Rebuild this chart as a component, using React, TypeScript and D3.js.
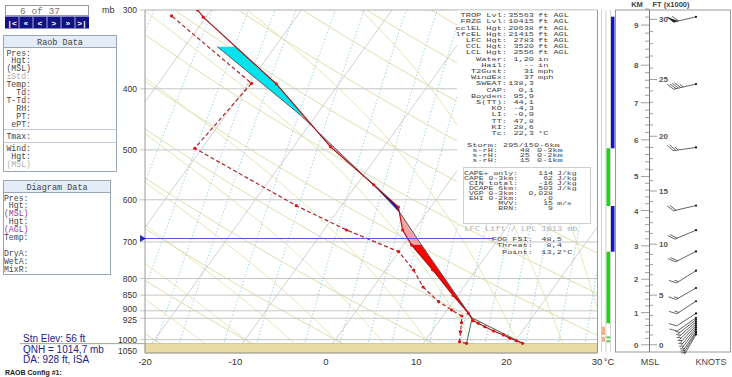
import React from "react";
import * as d3 from "d3";

// ---------------- data ----------------
const isobarLevels = [300, 400, 500, 600, 700, 800, 850, 900, 925, 1000];
const pressureLabels = [300, 400, 500, 600, 700, 800, 850, 900, 925, 1000, 1050];
const labelNudge = [0, 0, 0, 0, 0, 0, 0, -1.5, 1.5, 0, -2];
const tempTicks = [-20, -10, 0, 10, 20, 30];

// environmental temperature (mb, °C)
const envP = [1013.5, 1004, 995, 983, 969, 954, 942, 933, 908, 851, 775, 708, 670, 616, 568, 494.5, 393, 308, 300];
const envT = [21.0, 20.1, 19.2, 18.2, 16.8, 15.5, 14.5, 13.7, 12.6, 9.5, 5.2, 0.9, -1.3, -3.6, -8.1, -15.9, -26.9, -40.3, -41.5];

// dew point
const dewP = [1013.5, 1007.6, 971.4, 940, 917.3, 897.4, 870.6, 825.1, 775.4, 725.3, 670, 613.1, 497.1, 392.1, 306.6];
const dewT = [14.8, 13.9, 13.2, 12.6, 12.1, 10.5, 8.4, 5.5, 3.1, 0.0, -7.5, -15.0, -30.8, -29.7, -43.9];

// lifted parcel
const parcelP = [1013.5, 924, 703, 630, 575, 440, 343];
const parcelT = [21.0, 13.4, 1.7, -2.9, -7.5, -21.8, -36.4];

const sfcP = 1013.5;
const sfcTd = 14.8;
const lclP = 924;
const lclT = 13.4;
const stnPressure = 1014.7;

const areaBreaks = [915, 708, 630, 572, 440, 343];
const areaColors = ["#ff0000", "#f5a3a3", "#1010c8", "#f5a3a3", "#00e4ee"];

const mixingRatios = [0.2, 0.4, 0.6, 0.8, 1, 1.5, 2, 3, 4, 5, 6, 8, 10, 12, 14, 16, 20, 24, 28, 32];
const dryAdiabats = d3.range(-30, 160, 10);
const moistAdiabats = d3.range(-15, 40, 5);

// altitude scale: km -> pressure
const kmLevels = [0, 1, 2, 3, 4, 5, 6, 7, 8, 9];
const kmPressures = [1019, 906, 802, 710, 624, 551, 482, 421, 367, 317];

// winds
const windFt = [30200, 24600, 19000, 13600, 11300, 9300, 7400, 5700, 4400, 3200, 2750, 2550, 2350, 2150, 1950, 1750, 1550, 1350, 1200, 1050];
const windDir = [257, 257, 262, 257, 247, 243, 238, 240, 237, 237, 235, 232, 229, 226, 223, 220, 217, 214, 212, 210];
const windKt = [60, 45, 25, 20, 20, 20, 15, 15, 15, 10, 10, 5, 5, 5, 5, 5, 5, 5, 5, 5];

const statsRows = [
  ["TROP Lvl:", "35563", "ft AGL"],
  ["FRZG Lvl:", "10415", "ft AGL"],
  ["cclEL Hgt:", "20638", "ft AGL"],
  ["lfcEL Hgt:", "21415", "ft AGL"],
  ["LFC Hgt:", "2783", "ft AGL"],
  ["CCL Hgt:", "3520", "ft AGL"],
  ["LCL Hgt:", "2556", "ft AGL"],
  ["Water:", "1,20", "in"],
  ["Hail:", "--", "in"],
  ["T2Gust:", "31", "mph"],
  ["WindEx:", "37", "mph"],
  ["SWEAT:", "138,3", ""],
  ["CAP:", "0,1", ""],
  ["Boyden:", "95,9", ""],
  ["S(TT):", "44,1", ""],
  ["KO:", "-4,3", ""],
  ["LI:", "-0,9", ""],
  ["TT:", "47,8", ""],
  ["KI:", "28,6", ""],
  ["Tc:", "22,3", "°C"],
];
const stormRows = [
  ["Storm:", "295/15", "0-6km"],
  ["s-rH:", "48", "0-3km"],
  ["s-rH:", "25", "0-2km"],
  ["s-rH:", "15", "0-1km"],
];
const capeRows = [
  ["CAPE+ only:", "114", "J/kg"],
  ["CAPE 0-3km:", "62", "J/kg"],
  ["CIN total:", "-16", "J/kg"],
  ["DCAPE 6km:", "503", "J/kg"],
  ["VGP 0-3km:", "0,028", ""],
  ["EHI 0-2km:", ",0", ""],
  ["MVV:", "15", "m/s"],
  ["BRN:", "9", ""],
];
const fogRows = [
  ["FOG FSI:", "48,5", ""],
  ["Threat:", "8,4", ""],
  ["Point:", "13,2", "°C"],
];
const raobLabels = ["Pres:", "Hgt:", "(MSL)", "±Std:", "Temp:", "Td:", "T-Td:", "RH:", "PT:", "ePT:"];
const diagLabels = ["Pres:", "Hgt:", "(MSL)", "Hgt:", "(AGL)", "Temp:", "", "DryA:", "WetA:", "MixR:"];
const navGlyphs = ["|<", "«", "<", ">", "»", ">|"];

// ---------------- scales ----------------
const TOP = 10, BOT = 353, LEFT = 145, RIGHT = 597;
const SKEW = 0.72;
const yP = d3.scaleLog().domain([300, 1050]).range([TOP, BOT]);
const xT = d3.scaleLinear().domain([-20, 30]).range([LEFT, RIGHT]);
const X = (t: number, p: number) => xT(t) + SKEW * (BOT - yP(p));
const kmToY = d3.scaleLinear().domain(kmLevels).range(kmPressures.map((p) => yP(p)));

const line = d3.line<[number, number]>().x((d) => d[0]).y((d) => d[1]);

function interp(P: number[], T: number[], p: number) {
  for (let i = 0; i < P.length - 1; i++) {
    if (p <= P[i] && p >= P[i + 1]) {
      const f = Math.log(P[i] / p) / Math.log(P[i] / P[i + 1]);
      return T[i] + f * (T[i + 1] - T[i]);
    }
  }
  return p > P[0] ? T[0] : T[T.length - 1];
}

function esat(tc: number) {
  return 6.112 * Math.exp((17.67 * tc) / (tc + 243.5));
}
function moistLine(thw: number) {
  const Rd = 287.04, cp = 1005.7, L = 2.501e6, eps = 0.622;
  const grad = (p: number, tk: number) => {
    const tc = tk - 273.15;
    const es = esat(tc);
    const rs = (eps * es) / (p - es);
    return ((Rd * tk + L * rs) / p) / (cp + (L * L * rs * eps) / (Rd * tk * tk));
  };
  const up: [number, number][] = [];
  let tk = thw + 273.15;
  for (let p = 1000; p >= 250; p -= 5) {
    up.push([X(tk - 273.15, p), yP(p)]);
    tk -= grad(p, tk) * 5;
  }
  const down: [number, number][] = [];
  tk = thw + 273.15;
  for (let p = 1000; p <= 1060; p += 5) {
    down.push([X(tk - 273.15, p), yP(p)]);
    tk += grad(p, tk) * 5;
  }
  return down.reverse().concat(up);
}
function dryLine(th: number) {
  const pts: [number, number][] = [];
  for (let p = 1060; p >= 250; p -= 10) {
    const t = (th + 273.15) * Math.pow(p / 1000, 0.2857) - 273.15;
    pts.push([X(t, p), yP(p)]);
  }
  return pts;
}
function mixLine(w: number) {
  const pts: [number, number][] = [];
  for (let p = 1060; p >= 250; p -= 10) {
    const e = ((w / 1000) * p) / (0.622 + w / 1000);
    const a = Math.log(e / 6.112);
    const td = (243.5 * a) / (17.67 - a);
    pts.push([X(td, p), yP(p)]);
  }
  return pts;
}

function areaPolygon(pa: number, pb: number) {
  const ps = [pa];
  [...envP, ...parcelP].forEach((p) => {
    if (p < pa && p > pb) ps.push(p);
  });
  ps.push(pb);
  ps.sort((a, b) => b - a);
  const fwd = ps.map((p) => [X(interp(parcelP, parcelT, p), p), yP(p)] as [number, number]);
  const back = ps
    .slice()
    .reverse()
    .map((p) => [X(interp(envP, envT, p), p), yP(p)] as [number, number]);
  return line(fwd.concat(back)) + "Z";
}

function barb(x0: number, y0: number, dir: number, kt: number, key: number) {
  const r = (dir * Math.PI) / 180;
  const ux = Math.sin(r), uy = -Math.cos(r);
  const Ls = 23;
  const ex = x0 + ux * Ls, ey = y0 + uy * Ls;
  const a = (50 * Math.PI) / 180;
  const bx = ux * Math.cos(a) - uy * Math.sin(a);
  const by = ux * Math.sin(a) + uy * Math.cos(a);
  let rem = Math.round(kt / 5) * 5;
  let pos = 0;
  const parts: React.ReactNode[] = [];
  parts.push(<line key="s" x1={x0} y1={y0} x2={ex} y2={ey} />);
  let i = 0;
  while (rem >= 50) {
    const px = ex - ux * pos, py = ey - uy * pos;
    const qx = ex - ux * (pos + 4), qy = ey - uy * (pos + 4);
    parts.push(
      <polygon key={"t" + i++} points={`${px},${py} ${px + bx * 8},${py + by * 8} ${qx},${qy}`} fill="#111" />
    );
    pos += 5;
    rem -= 50;
  }
  while (rem >= 10) {
    const px = ex - ux * pos, py = ey - uy * pos;
    parts.push(<line key={"b" + i++} x1={px} y1={py} x2={px + bx * 8} y2={py + by * 8} />);
    pos += 2.5;
    rem -= 10;
  }
  if (rem >= 5) {
    if (pos === 0) pos = 2.5;
    const px = ex - ux * pos, py = ey - uy * pos;
    parts.push(<line key={"h" + i++} x1={px} y1={py} x2={px + bx * 4.5} y2={py + by * 4.5} />);
  }
  return (
    <g key={key}>
      {parts}
      <circle cx={x0} cy={y0} r={1.1} fill="#111" stroke="none" />
    </g>
  );
}

function SText(props: any) {
  const { x, y, anchor = "start", size = 8.6, sy = 0.72, fill = "#444", children } = props;
  return (
    <text
      transform={`translate(${x},${y}) scale(1,${sy})`}
      textAnchor={anchor}
      fontSize={size}
      fill={fill}
      fontFamily="'Liberation Mono', monospace"
    >
      {children}
    </text>
  );
}

export default function App() {
  const mono = "'Liberation Mono', 'Courier New', monospace";
  const sans = "'Liberation Sans', Arial, sans-serif";
  const envPts = envP.map((p, i) => [X(envT[i], p), yP(p)] as [number, number]);
  const dewPts = dewP.map((p, i) => [X(dewT[i], p), yP(p)] as [number, number]);
  const parPts = parcelP.map((p, i) => [X(parcelT[i], p), yP(p)] as [number, number]);
  const yStn = yP(stnPressure);
  const axisX = 649.5;

  const kmMinor = d3.range(0, 9.45, 0.2);
  const ftTicks = d3.range(0, 31000, 1000);

  return (
    <svg width={732} height={377} style={{ position: "absolute", left: 0, top: 0, background: "#fff" }}>
      <defs>
        <clipPath id="plot">
          <rect x={LEFT} y={TOP} width={RIGHT - LEFT + 1} height={BOT - TOP} />
        </clipPath>
      </defs>

      {/* ---------- grid ---------- */}
      <g clipPath="url(#plot)" fill="none">
        {mixingRatios.map((w) => (
          <path key={"m" + w} d={line(mixLine(w)) || ""} stroke="#8ccfe4" strokeWidth={0.9} strokeDasharray="1.5,2" />
        ))}
        {dryAdiabats.map((th) => (
          <path key={"d" + th} d={line(dryLine(th)) || ""} stroke="#d9dba3" strokeWidth={0.9} />
        ))}
        {moistAdiabats.map((th) => (
          <path key={"w" + th} d={line(moistLine(th)) || ""} stroke="#dfe3ab" strokeWidth={0.9} />
        ))}
        {d3.range(-120, 40, 10).map((t) => (
          <line key={"t" + t} x1={X(t, 1050)} y1={yP(1050)} x2={X(t, 300)} y2={yP(300)} stroke="#bdbdbd" strokeWidth={0.7} />
        ))}
      </g>
      {isobarLevels.map((p) => (
        <line key={"p" + p} x1={140} x2={RIGHT} y1={yP(p)} y2={yP(p)} stroke="#c6c6c6" strokeWidth={1} />
      ))}

      {/* ground */}
      <rect x={LEFT} y={yStn} width={RIGHT - LEFT} height={BOT - yStn} fill="#e8dca4" stroke="#b9ad78" strokeWidth={0.6} />
      <line x1={20} x2={LEFT} y1={yStn} y2={yStn} stroke="#8c8c6c" strokeWidth={0.8} />

      {/* plot frame */}
      <line x1={LEFT} x2={LEFT} y1={TOP} y2={BOT} stroke="#9a9a9a" strokeWidth={1} />
      <line x1={LEFT} x2={RIGHT} y1={BOT} y2={BOT} stroke="#9a9a9a" strokeWidth={1} />
      <line x1={LEFT} x2={RIGHT} y1={TOP} y2={TOP} stroke="#c6c6c6" strokeWidth={1} />

      {/* CAPE / CIN areas */}
      <g clipPath="url(#plot)">
        {areaColors.map((c, i) => (
          <path key={"a" + i} d={areaPolygon(areaBreaks[i], areaBreaks[i + 1])} fill={c} stroke="none" />
        ))}
        <path d={line(parPts) || ""} fill="none" stroke="#5a5a5a" strokeWidth={1} />
        <line x1={X(sfcTd, sfcP)} y1={yP(sfcP)} x2={X(lclT, lclP)} y2={yP(lclP)} stroke="#2f7a4f" strokeWidth={1} />
        <path d={line(envPts) || ""} fill="none" stroke="#a31515" strokeWidth={1.2} />
        <path d={line(dewPts) || ""} fill="none" stroke="#b02525" strokeWidth={1.2} strokeDasharray="4,2.5" />
        {envPts.map((d, i) => (
          <circle key={"e" + i} cx={d[0]} cy={d[1]} r={1.6} fill="#e01010" />
        ))}
        {dewPts.map((d, i) => (
          <circle key={"q" + i} cx={d[0]} cy={d[1]} r={1.6} fill="#e01010" />
        ))}
      </g>

      {/* LPL line */}
      <line x1={140} x2={493} y1={238.5} y2={238.5} stroke="#5a5ad0" strokeWidth={1} />
      <polygon points="140,235 146,238.5 140,242" fill="#2a2ab8" />

      {/* stats panel */}
      <rect x={457} y={10.5} width={140} height={213} fill="#fff" />
      <rect x={463.5} y={167.5} width={127} height={56} fill="#fff" stroke="#cfcfcf" strokeWidth={1} />
      {statsRows.map((r, i) => {
        const y = 17.2 + i * 6.2;
        return (
          <g key={"s" + i}>
            <SText x={507} y={y} anchor="end">{r[0]}</SText>
            <SText x={534} y={y} anchor="end">{r[1]}</SText>
            <SText x={538} y={y}>{r[2]}</SText>
          </g>
        );
      })}
      {stormRows.map((r, i) => {
        const y = 147 + i * 5;
        return (
          <g key={"st" + i}>
            <SText x={498} y={y} anchor="end" sy={0.58}>{r[0]}</SText>
            <SText x={i === 0 ? 503 : 530} y={y} anchor={i === 0 ? "start" : "end"} sy={0.58}>{r[1]}</SText>
            <SText x={i === 0 ? 534 : 537} y={y} sy={0.58}>{r[2]}</SText>
          </g>
        );
      })}
      {capeRows.map((r, i) => {
        const y = 175 + i * 5;
        return (
          <g key={"c" + i}>
            <SText x={518} y={y} anchor="end" size={8.2} sy={0.58}>{r[0]}</SText>
            <SText x={553} y={y} anchor="end" size={8.2} sy={0.58}>{r[1]}</SText>
            <SText x={557} y={y} size={8.2} sy={0.58}>{r[2]}</SText>
          </g>
        );
      })}
      <SText x={521} y={230.5} anchor="middle" fill="#b0b0b0" sy={0.8}>LFC Lift / LPL 1013 mb</SText>
      {fogRows.map((r, i) => {
        const y = 240.5 + i * 6.5;
        return (
          <g key={"f" + i}>
            <SText x={533} y={y} anchor="end" sy={0.68}>{r[0]}</SText>
            <SText x={562} y={y} anchor="end" sy={0.68}>{r[1]}</SText>
            <SText x={562} y={y} sy={0.68}>{r[2]}</SText>
          </g>
        );
      })}

      {/* pressure labels */}
      <text x={102} y={13} fontSize={9} fontFamily={sans} fill="#333">mb</text>
      {pressureLabels.map((p, i) => (
        <text key={"pl" + p} x={137} y={yP(p) + labelNudge[i] + 3} textAnchor="end" fontSize={8.5} fontFamily={sans} fill="#333">
          {p}
        </text>
      ))}
      {tempTicks.map((t) => (
        <text key={"tl" + t} x={X(t, 1050)} y={364.5} textAnchor="middle" fontSize={9.5} fontFamily={sans} fill="#333">
          {t}
        </text>
      ))}
      <text x={609} y={364.5} textAnchor="middle" fontSize={9.5} fontFamily={sans} fill="#333">°C</text>

      {/* right column */}
      {[601.5, 606, 610.5].map((x) => (
        <line key={"cl" + x} x1={x} x2={x} y1={TOP} y2={352} stroke="#c8c8c8" strokeWidth={0.8} />
      ))}
      <line x1={RIGHT + 0.5} x2={RIGHT + 0.5} y1={TOP} y2={BOT} stroke="#9a9a9a" strokeWidth={1} />
      <rect x={611} y={16.7} width={3.5} height={131.6} fill="#1414c8" />
      <rect x={606.5} y={148.3} width={3.5} height={57.7} fill="#22d022" />
      <rect x={611} y={206} width={3.5} height={45.7} fill="#1414c8" />
      <rect x={606.5} y={251.7} width={3.5} height={71.6} fill="#22d022" />
      <rect x={602} y={326.7} width={3} height={8.3} fill="#f0b08c" />
      <rect x={602} y={336.7} width={3} height={5} fill="#f0b08c" />
      <rect x={606.5} y={336.5} width={3.5} height={1.6} fill="#22d022" />
      <rect x={606.5} y={340.5} width={3.5} height={1.6} fill="#22d022" />

      {/* altitude / wind panel */}
      <rect x={615.5} y={TOP} width={115} height={342} fill="none" stroke="#9a9a9a" strokeWidth={1} />
      <line x1={axisX} x2={axisX} y1={TOP} y2={352} stroke="#777" strokeWidth={1} />
      {kmMinor.map((k, i) => (
        <line key={"km" + i} x1={Math.abs(k - Math.round(k)) < 0.01 ? 641 : 645} x2={axisX} y1={kmToY(k)} y2={kmToY(k)} stroke="#777" strokeWidth={0.7} />
      ))}
      {kmLevels.map((k) => (
        <text key={"kl" + k} x={638.5} y={kmToY(k) + 3} textAnchor="end" fontSize={8} fontWeight="bold" fontFamily={sans} fill="#555">
          {k}
        </text>
      ))}
      {ftTicks.map((f) => (
        <line key={"ft" + f} x1={axisX} x2={f % 5000 === 0 ? 657 : 653} y1={kmToY(f * 0.0003048)} y2={kmToY(f * 0.0003048)} stroke="#777" strokeWidth={0.7} />
      ))}
      {ftTicks.filter((f) => f % 5000 === 0).map((f) => (
        <text key={"fl" + f} x={659} y={kmToY(f * 0.0003048) + 3} fontSize={8} fontWeight="bold" fontFamily={sans} fill="#555">
          {f / 1000}
        </text>
      ))}
      <text x={637} y={7} textAnchor="middle" fontSize={7.5} fontWeight="bold" fontFamily={sans} fill="#444">KM</text>
      <text x={671} y={7} textAnchor="middle" fontSize={7.5} fontWeight="bold" fontFamily={sans} fill="#444">FT (x1000)</text>
      <text x={650} y={364.5} textAnchor="middle" fontSize={9} fontFamily={sans} fill="#444">MSL</text>
      <text x={711} y={364.5} textAnchor="middle" fontSize={9} fontFamily={sans} fill="#444">KNOTS</text>
      <g stroke="#222" strokeWidth={0.7} fill="none">
        {windFt.map((f, i) => barb(696, kmToY(f * 0.0003048), windDir[i], windKt[i], i))}
      </g>

      {/* left panels */}
      <g fontFamily={mono}>
        <rect x={5.5} y={5.5} width={83} height={10} fill="#fff" stroke="#9a9a9a" />
        <text x={20} y={13.5} fontSize={9.5} fill="#777">6 of 37</text>
        <rect x={5} y={16.5} width={84} height={12} fill="#121285" />
        {navGlyphs.map((g, i) => (
          <g key={"n" + i}>
            {i > 0 && <line x1={5 + i * 14} x2={5 + i * 14} y1={16.5} y2={28.5} stroke="#a8a8e0" strokeWidth={1} />}
            <text x={12 + i * 14} y={25.5} textAnchor="middle" fontSize={8} fontWeight="bold" fill="#fff">{g}</text>
          </g>
        ))}

        <rect x={3.5} y={35.5} width={113} height={136} fill="#fff" stroke="#98a6b6" />
        <rect x={3.5} y={35.5} width={113} height={12} fill="#e4edf7" stroke="#98a6b6" />
        <text x={60} y={44.5} textAnchor="middle" fontSize={8.5} fill="#444">Raob Data</text>
        {raobLabels.map((l, i) => (
          <text key={"r" + i} x={31} y={55.5 + i * 7.9} textAnchor="end" fontSize={8.2} fill={l === "±Std:" ? "#b0b0b0" : "#444"}>{l}</text>
        ))}
        <line x1={4} x2={116} y1={129.5} y2={129.5} stroke="#c4ccd6" />
        <text x={31} y={138.5} textAnchor="end" fontSize={8.2} fill="#444">Tmax:</text>
        <line x1={4} x2={116} y1={142.5} y2={142.5} stroke="#c4ccd6" />
        <text x={31} y={150.5} textAnchor="end" fontSize={8.2} fill="#444">Wind:</text>
        <text x={31} y={158.5} textAnchor="end" fontSize={8.2} fill="#444">Hgt:</text>
        <text x={31} y={166.5} textAnchor="end" fontSize={8.2} fill="#b0b0b0">(MSL)</text>

        <rect x={3.5} y={180.5} width={107} height={94} fill="#fff" stroke="#98a6b6" />
        <rect x={3.5} y={180.5} width={107} height={12} fill="#e4edf7" stroke="#98a6b6" />
        <text x={57} y={189.5} textAnchor="middle" fontSize={8.5} fill="#444">Diagram Data</text>
        {diagLabels.map((l, i) => (
          <text key={"dg" + i} x={28.5} y={200.5 + i * 7.9} textAnchor="end" fontSize={8.2} fill={l.startsWith("(") ? "#8a3c9c" : "#444"}>{l}</text>
        ))}
      </g>

      {/* station info */}
      <g fontFamily={sans} fill="#22228a">
        <text x={23} y={341.5} fontSize={10}>Stn Elev: 56 ft</text>
        <text x={23} y={352.5} fontSize={10}>QNH = 1014,7 mb</text>
        <text x={23} y={362.5} fontSize={10}>DA: 928 ft, ISA</text>
      </g>
      <text x={5} y={375} fontSize={7} fontWeight="bold" fontFamily={sans} fill="#222">RAOB Config #1:</text>
    </svg>
  );
}
